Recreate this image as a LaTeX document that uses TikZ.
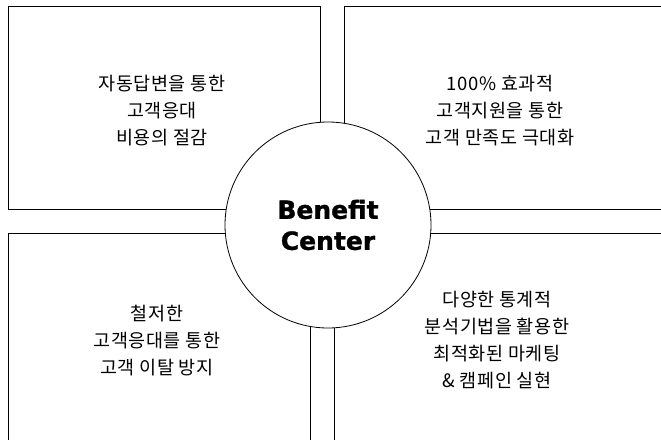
\documentclass[tikz,border=0pt]{standalone}
\usepackage{fontspec}
\newfontfamily\krfont{Noto Sans CJK KR}[LetterSpace=3]
\newfontfamily\bcfont{DejaVu Sans Bold}[FakeBold=1.2]
\begin{document}
\begin{tikzpicture}[x=1pt,y=-1pt,
  box/.style={draw=black,line width=0.8pt},
  txt/.style={font=\krfont\fontsize{18.5}{27}\selectfont, align=center, inner sep=0pt},
  hub/.style={circle, draw=black, fill=white, line width=0.8pt, minimum size=206pt, inner sep=0pt}]
\clip (0,0) rectangle (661,439);
\fill[white] (0,0) rectangle (661,439);
\draw[box] (8,6) rectangle (320,209);
\draw[box] (344,6) rectangle (700,209);
\draw[box] (8,233) rectangle (310,480);
\draw[box] (334,233) rectangle (700,480);
\node[hub] (bc) at (328,225) {};
\node[font=\bcfont\fontsize{25}{31}\selectfont, align=center, inner sep=0pt] (bct) at (bc) {Benefit\\Center};
\node[txt] (tl) at (162,111) {자동답변을 통한\\고객응대\\비용의 절감};
\node[txt] (tr) at (500,111) {100\% 효과적\\고객지원을 통한\\고객 만족도 극대화};
\node[txt] (bl) at (157,341) {철저한\\고객응대를 통한\\고객 이탈 방지};
\node[txt] (br) at (497,340) {다양한 통계적\\분석기법을 활용한\\최적화된 마케팅\\\& 캠페인 실현};
\end{tikzpicture}
\end{document}
